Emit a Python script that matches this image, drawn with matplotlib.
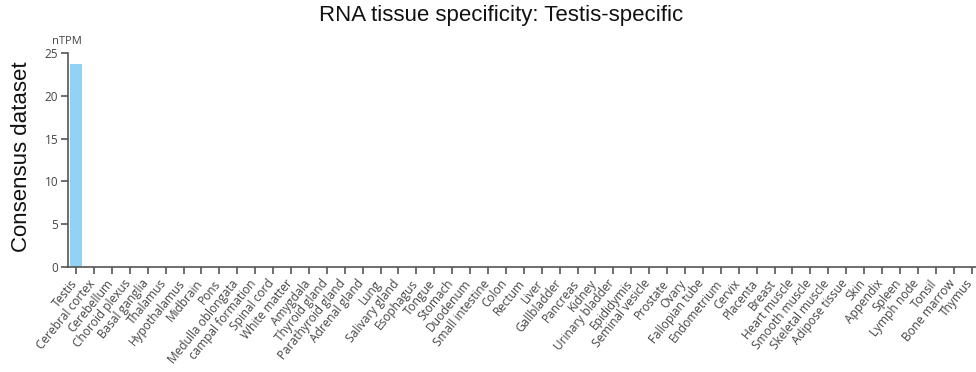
import matplotlib
matplotlib.use("Agg")
import matplotlib.pyplot as plt
import matplotlib.transforms as mtransforms

tissues = ["Testis", "Cerebral cortex", "Cerebellum", "Choroid plexus", "Basal ganglia",
           "Thalamus", "Hypothalamus", "Midbrain", "Pons", "Medulla oblongata",
           "campal formation", "Spinal cord", "White matter", "Amygdala", "Thyroid gland",
           "Parathyroid gland", "Adrenal gland", "Lung", "Salivary gland", "Esophagus",
           "Tongue", "Stomach", "Duodenum", "Small intestine", "Colon", "Rectum", "Liver",
           "Gallbladder", "Pancreas", "Kidney", "Urinary bladder", "Epididymis",
           "Seminal vesicle", "Prostate", "Ovary", "Fallopian tube", "Endometrium", "Cervix",
           "Placenta", "Breast", "Heart muscle", "Smooth muscle", "Skeletal muscle",
           "Adipose tissue", "Skin", "Appendix", "Spleen", "Lymph node", "Tonsil",
           "Bone marrow", "Thymus"]
ntpm = [23.8] + [0.0] * (len(tissues) - 1)
yticks = [0, 5, 10, 15, 20, 25]

axis_col = "#555555"
text_col = "#444444"

fig = plt.figure(figsize=(9.76, 3.72), dpi=100)
ax = fig.add_axes([68 / 976, 1 - 266.7 / 372, 1 - 68 / 976, (266.7 - 53.3) / 372])

x = list(range(len(tissues)))
ax.bar(x, ntpm, width=0.7, color="#92D3F5", zorder=2)

ax.set_xlim(-0.45, len(tissues) - 1 + 0.25)
ax.set_ylim(0, 25)
ax.set_yticks(yticks)
ax.set_xticks(x)
ax.set_xticklabels(tissues, rotation=51, ha="right", va="top",
                   fontsize=8.6, color=text_col, family="Open Sans")
for lab in ax.get_yticklabels():
    lab.set_fontsize(8.5)
    lab.set_color(text_col)
    lab.set_family("Open Sans")

for s in ["top", "right"]:
    ax.spines[s].set_visible(False)
for s in ["left", "bottom"]:
    ax.spines[s].set_color(axis_col)
    ax.spines[s].set_linewidth(1.2)
ax.tick_params(axis="both", colors=axis_col, length=5, width=1.2, pad=2)
ax.tick_params(axis="x", labelcolor=text_col, pad=2.5)
ax.tick_params(axis="y", labelcolor=text_col)

# nudge the slanted labels so their top end sits under the tick
shift = mtransforms.ScaledTranslation(4 / 100, 0, fig.dpi_scale_trans)
for lab in ax.get_xticklabels():
    lab.set_transform(lab.get_transform() + shift)

fig.text(66.7 / 976, 1 - 41 / 372, "nTPM", ha="center", va="center",
         fontsize=8, color=text_col, family="Open Sans")
fig.text(22 / 976, 1 - 157 / 372, "Consensus dataset", rotation=90, ha="center",
         va="center", fontsize=16, color="#111111", family="Liberation Sans")
fig.text(501 / 976, 1 - 15 / 372, "RNA tissue specificity: Testis-specific",
         ha="center", va="center", fontsize=16, color="#111111", family="Liberation Sans")

fig.savefig("out.png", dpi=100)
